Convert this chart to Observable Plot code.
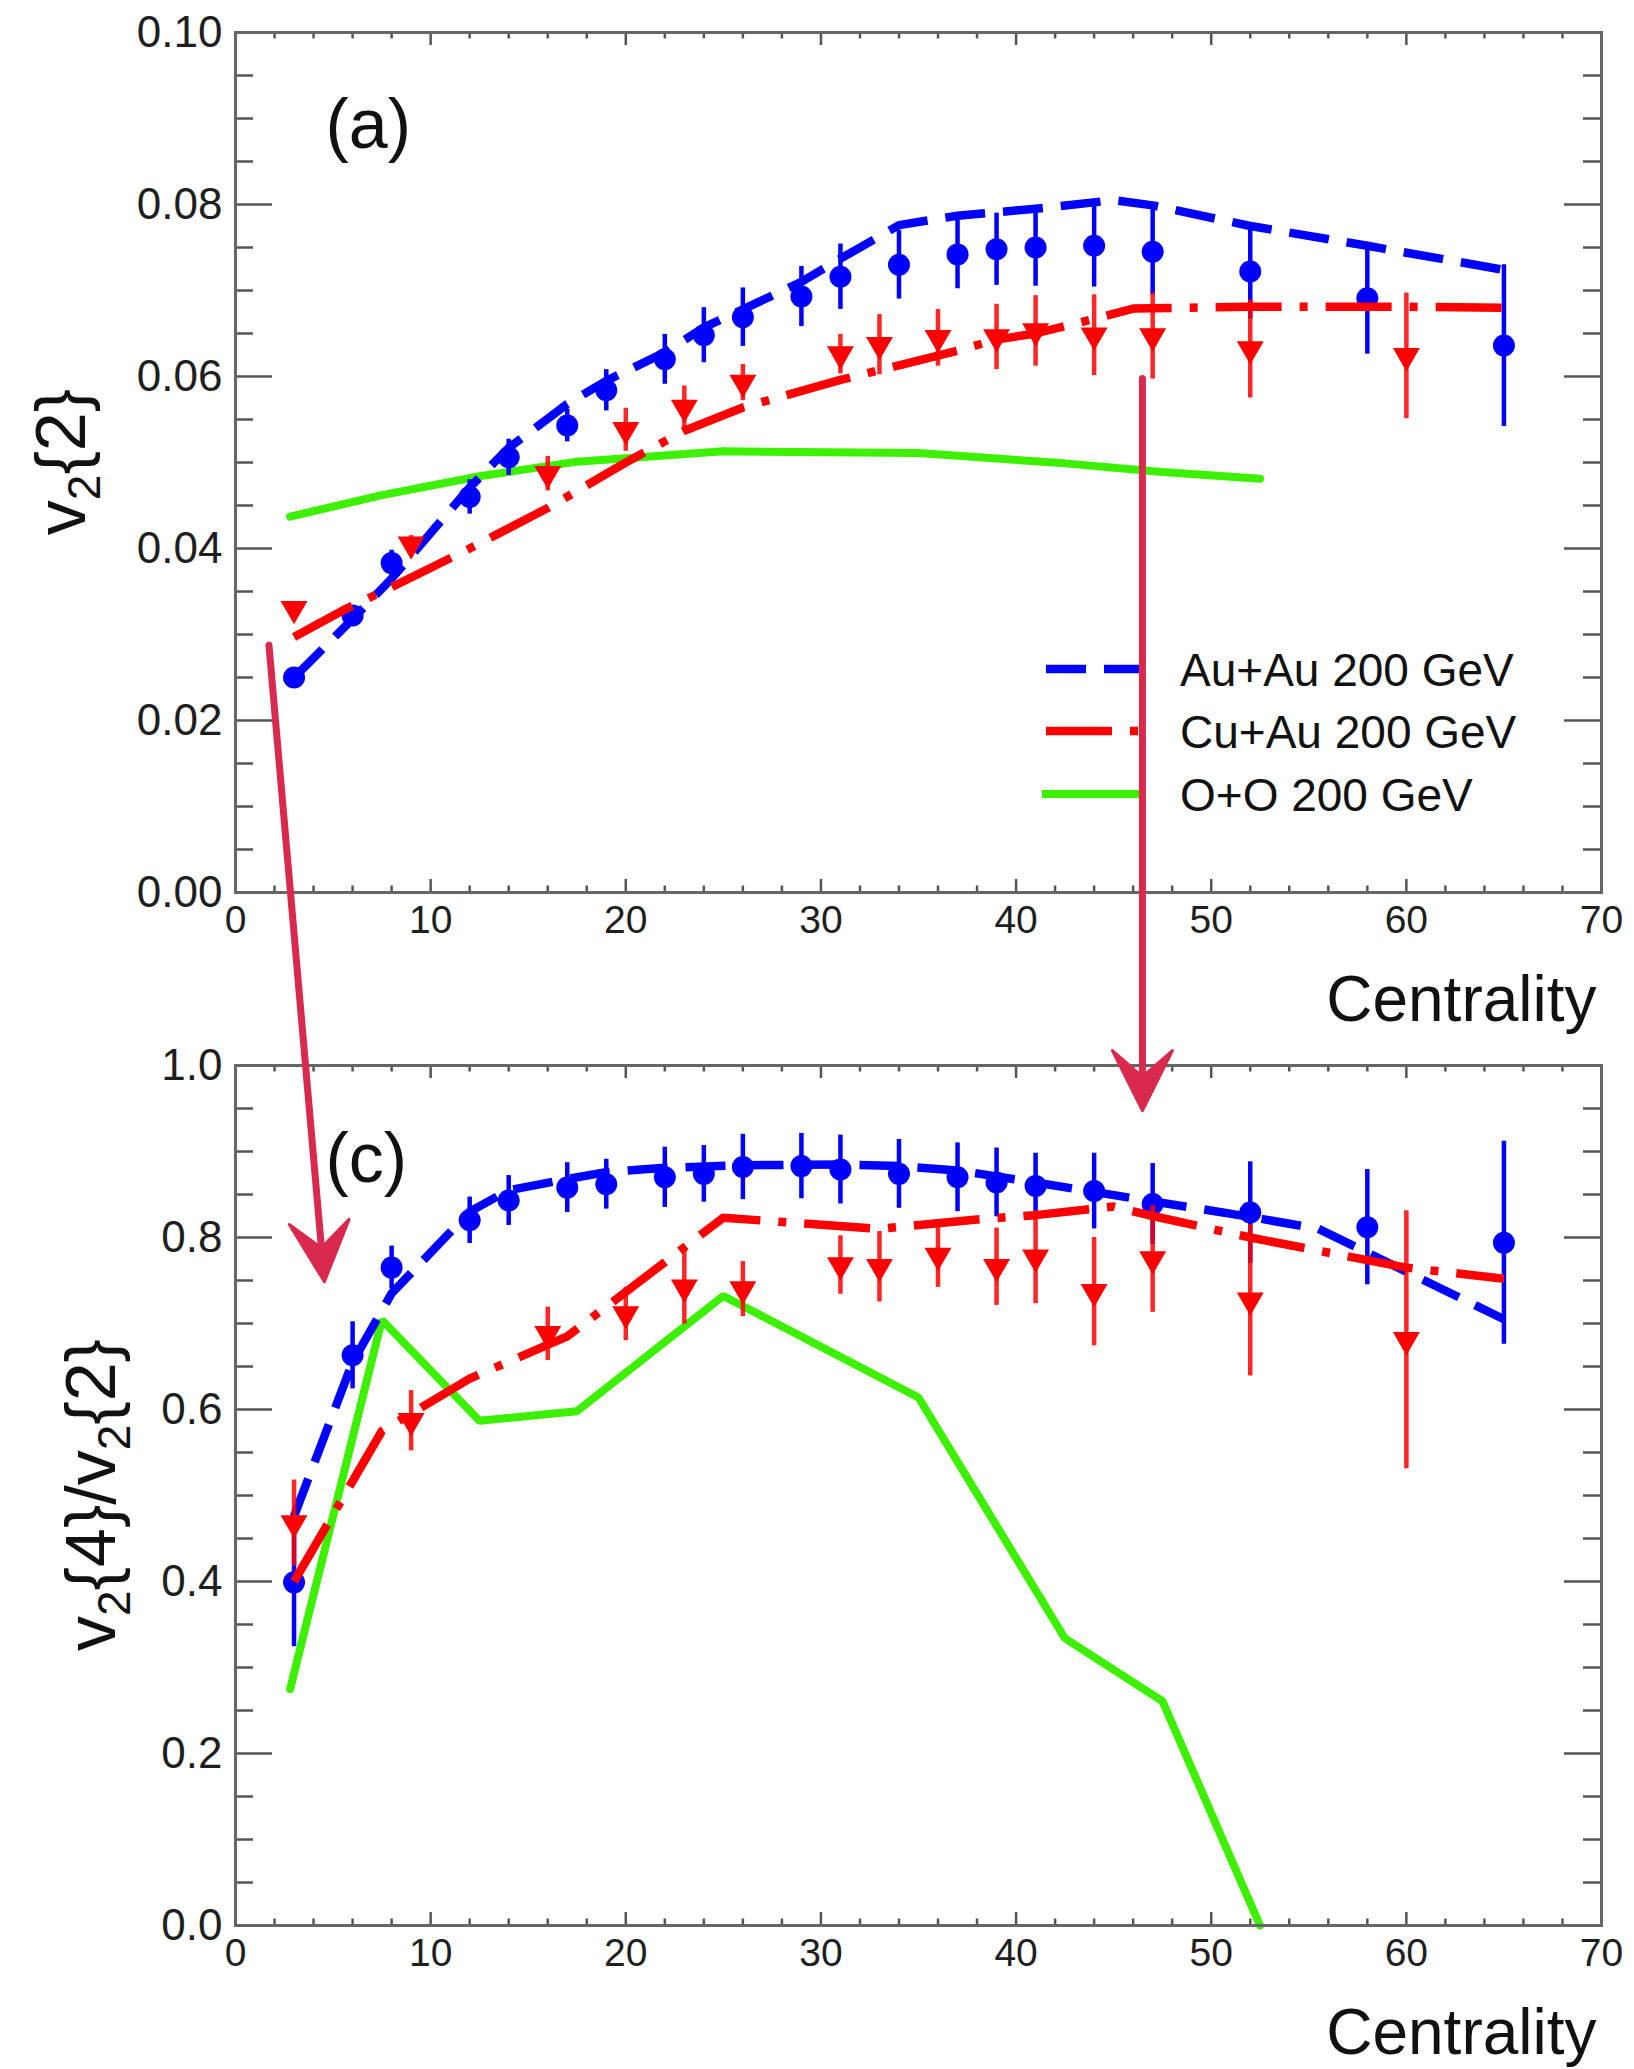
<!DOCTYPE html>
<html>
<head>
<meta charset="utf-8">
<script src="https://cdn.jsdelivr.net/npm/d3@7"></script>
<script src="https://cdn.jsdelivr.net/npm/@observablehq/plot@0.6"></script>
<style>
html, body { margin: 0; padding: 0; background: #fff; }
#fig { position: relative; width: 1634px; height: 2069px; overflow: hidden; background: #fff; }
#fig svg { position: absolute; left: 0; }
</style>
</head>
<body>
<div id="fig"></div>
<script>
// ---------------- data ----------------
// Au+Au 200 GeV data points (blue circles)
const centAuAu = [3, 6, 8, 12, 14, 17, 19, 22, 24, 26, 29, 31, 34, 37, 39, 41, 44, 47, 52, 58, 65];
const v22AuAu = [0.0250, 0.0322, 0.0383, 0.0460, 0.0506, 0.0543, 0.0584, 0.0620, 0.0648, 0.0669, 0.0693, 0.0716, 0.0730, 0.0742, 0.0748, 0.0750, 0.0752, 0.0745, 0.0722, 0.0691, 0.0636];
const v22AuAuErr = [0.0006, 0.0008, 0.0015, 0.0020, 0.0021, 0.0019, 0.0024, 0.0029, 0.0032, 0.0034, 0.0035, 0.0038, 0.0040, 0.0040, 0.0042, 0.0045, 0.0048, 0.0050, 0.0055, 0.0065, 0.0094];
const ratioAuAu = [0.399, 0.663, 0.765, 0.820, 0.843, 0.858, 0.862, 0.870, 0.874, 0.882, 0.883, 0.879, 0.874, 0.870, 0.864, 0.860, 0.854, 0.839, 0.829, 0.812, 0.794];
const ratioAuAuErr = [0.075, 0.039, 0.025, 0.027, 0.029, 0.029, 0.029, 0.035, 0.033, 0.038, 0.038, 0.040, 0.040, 0.040, 0.040, 0.038, 0.044, 0.047, 0.059, 0.067, 0.118];

// Cu+Au 200 GeV data points (red down-triangles)
const centCuAu = [3, 9, 16, 20, 23, 26, 31, 33, 36, 39, 41, 44, 47, 52, 60];
const v22CuAu = [0.0330, 0.0405, 0.0487, 0.0538, 0.0564, 0.0593, 0.0626, 0.0637, 0.0645, 0.0646, 0.0653, 0.0648, 0.0647, 0.0632, 0.0624];
const v22CuAuErr = [0.0008, 0.0010, 0.0020, 0.0025, 0.0025, 0.0021, 0.0023, 0.0035, 0.0033, 0.0038, 0.0041, 0.0047, 0.0050, 0.0057, 0.0073];
const ratioCuAu = [0.468, 0.587, 0.688, 0.711, 0.742, 0.740, 0.768, 0.766, 0.779, 0.766, 0.777, 0.737, 0.775, 0.727, 0.681];
const ratioCuAuErr = [0.050, 0.035, 0.031, 0.031, 0.043, 0.032, 0.034, 0.041, 0.037, 0.045, 0.054, 0.063, 0.062, 0.088, 0.150];

// Model curves, panel (a)
const centAuAuModelA = [3, 6, 8, 12, 14, 17, 19, 22, 24, 26, 29, 31, 34, 37, 39, 41, 45, 47, 52, 58, 65];
const v22AuAuModel = [0.0250, 0.0318, 0.0365, 0.0471, 0.0517, 0.0568, 0.0595, 0.0628, 0.0657, 0.0678, 0.0710, 0.0737, 0.0776, 0.0787, 0.0791, 0.0795, 0.0805, 0.0799, 0.0775, 0.0752, 0.0724];
const centCuAuModelA = [3, 5.5, 8, 12, 16, 20, 23, 26, 31, 34, 37, 39, 41, 44, 46, 52, 60, 65];
const v22CuAuModel = [0.0297, 0.0328, 0.0355, 0.0400, 0.0447, 0.0500, 0.0537, 0.0564, 0.0596, 0.0613, 0.0630, 0.0643, 0.0650, 0.0667, 0.0679, 0.0681, 0.0681, 0.0680];
const centOO = [2.8, 7.5, 12.5, 17.5, 25, 35, 42.5, 47.5, 52.5];
const v22OO = [0.0437, 0.0462, 0.0484, 0.0501, 0.0513, 0.0511, 0.0499, 0.0489, 0.0481];

// Model curves, panel (c)
const centAuAuModelC = [3, 6, 8, 12, 14, 17, 19, 22, 26, 31, 34, 37, 41, 44, 47, 52, 55.5, 65];
const ratioAuAuModel = [0.476, 0.655, 0.735, 0.830, 0.855, 0.868, 0.876, 0.881, 0.884, 0.885, 0.883, 0.878, 0.864, 0.853, 0.842, 0.824, 0.810, 0.705];
const centCuAuModelC = [3, 7.5, 12, 17, 25, 33, 38, 41, 45, 47, 52, 57, 60, 65];
const ratioCuAuModel = [0.400, 0.575, 0.636, 0.685, 0.823, 0.810, 0.821, 0.826, 0.836, 0.825, 0.800, 0.778, 0.765, 0.752];
const ratioOO = [0.275, 0.704, 0.587, 0.598, 0.732, 0.614, 0.334, 0.261, 0.0];

// Axis ticks
const xMajorTicks = [0, 10, 20, 30, 40, 50, 60, 70];
const xMinorTicks = [2, 4, 6, 8, 12, 14, 16, 18, 22, 24, 26, 28, 32, 34, 36, 38, 42, 44, 46, 48, 52, 54, 56, 58, 62, 64, 66, 68];
const yMajorTicksA = [0, 0.02, 0.04, 0.06, 0.08, 0.10];
const yMinorTicksA = [0.005, 0.01, 0.015, 0.025, 0.03, 0.035, 0.045, 0.05, 0.055, 0.065, 0.07, 0.075, 0.085, 0.09, 0.095];
const yMajorTicksC = [0, 0.2, 0.4, 0.6, 0.8, 1.0];
const yMinorTicksC = [0.05, 0.1, 0.15, 0.25, 0.3, 0.35, 0.45, 0.5, 0.55, 0.65, 0.7, 0.75, 0.85, 0.9, 0.95];

// Legend entries
const legendLabels = ["Au+Au 200 GeV", "Cu+Au 200 GeV", "O+O 200 GeV"];

// Hand-drawn annotation arrows: start in panel (a), end in panel (c)
const arrowStartCent = [1.74, 46.5];
const arrowStartV22 = [0.0287, 0.0597];
const arrowEndCent = [4.58, 46.5];
const arrowEndRatio = [0.748, 0.947];

// ---------------- styles ----------------
const W = 1634;
const FONT = '"Liberation Sans", Arial, Helvetica, sans-serif';
const BLUE = "#0000ff", RED = "#ff0000", GREEN = "#3cf000", ARROW = "#d92a4e";
const AXC = "#555", TXT = "#1e1e1e";
const ML = 235, MR = 33;
const BLUE_DASH = "40,18";
const RED_DASHDOT = "66,18,8,18";

function rows(c, v, e) { return c.map((d, i) => ({c: d, v: v[i], e: e ? e[i] : 0})); }

function panel(cfg) {
  const frameW = W - ML - MR;
  const frameH = cfg.height - cfg.marginTop - cfg.marginBottom;
  const blue = rows(centAuAu, cfg.blueV, cfg.blueE);
  const red = rows(centCuAu, cfg.redV, cfg.redE);
  const marks = [
    // ticks (inside the frame, on all four sides)
    Plot.ruleX(xMajorTicks, {insetTop: frameH - 13, stroke: AXC, strokeWidth: 2.5}),
    Plot.ruleX(xMajorTicks, {insetBottom: frameH - 13, stroke: AXC, strokeWidth: 2.5}),
    Plot.ruleX(xMinorTicks, {insetTop: frameH - 6.5, stroke: AXC, strokeWidth: 2.5}),
    Plot.ruleX(xMinorTicks, {insetBottom: frameH - 6.5, stroke: AXC, strokeWidth: 2.5}),
    Plot.ruleY(cfg.yMajor, {insetRight: frameW - 37, stroke: AXC, strokeWidth: 2.5}),
    Plot.ruleY(cfg.yMajor, {insetLeft: frameW - 37, stroke: AXC, strokeWidth: 2.5}),
    Plot.ruleY(cfg.yMinor, {insetRight: frameW - 18, stroke: AXC, strokeWidth: 2.5}),
    Plot.ruleY(cfg.yMinor, {insetLeft: frameW - 18, stroke: AXC, strokeWidth: 2.5}),
    Plot.axisX({ticks: xMajorTicks, tickSize: 0, tickPadding: 13, tickFormat: d3.format("d"), fontSize: 39, fill: TXT, label: null}),
    Plot.axisY({ticks: cfg.yMajor, tickSize: 0, tickPadding: 13, tickFormat: cfg.yFormat, fontSize: 44, fill: TXT, label: null}),
    // O+O model
    Plot.line(cfg.greenV, {x: centOO, y: cfg.greenV, stroke: GREEN, strokeWidth: 8, strokeLinejoin: "miter"}),
    // Au+Au model + data
    Plot.line(cfg.blueModelV, {x: cfg.blueModelC, y: cfg.blueModelV, stroke: BLUE, strokeWidth: 8.5, strokeDasharray: BLUE_DASH, strokeLinecap: "butt"}),
    Plot.ruleX(blue, {x: "c", y1: d => d.v - d.e, y2: d => d.v + d.e, stroke: BLUE, strokeWidth: 4.5}),
    Plot.dot(blue, {x: "c", y: "v", r: 11, fill: BLUE, stroke: null}),
    // Cu+Au model + data
    Plot.line(cfg.redModelV, {x: cfg.redModelC, y: cfg.redModelV, stroke: RED, strokeWidth: 8.5, strokeDasharray: RED_DASHDOT, strokeLinecap: "butt"}),
    Plot.ruleX(red, {x: "c", y1: d => d.v - d.e, y2: d => d.v + d.e, stroke: RED, strokeWidth: 4.5, strokeOpacity: 0.85}),
    Plot.dot(red, {x: "c", y: "v", symbol: "triangle", rotate: 180, r: 10, fill: RED, stroke: null}),
    // panel label and axis title
    Plot.text([cfg.tag], {frameAnchor: "top-left", dx: 90, dy: cfg.tagDy, textAnchor: "start", lineAnchor: "bottom", fontSize: 70, fill: "#111"}),
    Plot.text(["Centrality"], {frameAnchor: "bottom-right", dx: -5, dy: 128, textAnchor: "end", lineAnchor: "bottom", fontSize: 64, fill: "#111"}),
    Plot.frame({stroke: "#666", strokeWidth: 3})
  ];
  const p = Plot.plot({
    width: W, height: cfg.height,
    marginLeft: ML, marginRight: MR, marginTop: cfg.marginTop, marginBottom: cfg.marginBottom,
    x: {domain: [0, 70]},
    y: {domain: cfg.yDomain},
    style: {fontFamily: FONT, background: "transparent", overflow: "visible"},
    marks
  });
  // rotated y-axis title with subscripts
  const t = d3.select(p).append("text")
    .attr("transform", `translate(${cfg.titleX},${cfg.marginTop + frameH / 2}) rotate(-90)`)
    .attr("text-anchor", "middle").attr("font-size", 70).attr("font-family", FONT).attr("fill", "#111");
  let lastSub = false;
  cfg.title.forEach(([s, sub]) => {
    if (sub) t.append("tspan").attr("font-size", 46).attr("dy", 15).text(s);
    else t.append("tspan").attr("dy", lastSub ? -15 : 0).text(s);
    lastSub = sub;
  });
  return p;
}

const topPlot = panel({
  height: 1040, marginTop: 32, marginBottom: 148,
  yDomain: [0, 0.1], yMajor: yMajorTicksA, yMinor: yMinorTicksA, yFormat: d3.format(".2f"),
  blueV: v22AuAu, blueE: v22AuAuErr, redV: v22CuAu, redE: v22CuAuErr,
  blueModelC: centAuAuModelA, blueModelV: v22AuAuModel,
  redModelC: centCuAuModelA, redModelV: v22CuAuModel,
  greenV: v22OO,
  tag: "(a)", tagDy: 115, titleX: 85,
  title: [["v", false], ["2", true], ["{2}", false]]
});
topPlot.style.top = "0px";

const botPlot = panel({
  height: 1029, marginTop: 25, marginBottom: 144,
  yDomain: [0, 1], yMajor: yMajorTicksC, yMinor: yMinorTicksC, yFormat: d3.format(".1f"),
  blueV: ratioAuAu, blueE: ratioAuAuErr, redV: ratioCuAu, redE: ratioCuAuErr,
  blueModelC: centAuAuModelC, blueModelV: ratioAuAuModel,
  redModelC: centCuAuModelC, redModelV: ratioCuAuModel,
  greenV: ratioOO,
  tag: "(c)", tagDy: 116, titleX: 115,
  title: [["v", false], ["2", true], ["{4}/v", false], ["2", true], ["{2}", false]]
});
botPlot.style.top = "1040px";

// legend in panel (a)
{
  const g = d3.select(topPlot).append("g");
  const styles = [
    {stroke: BLUE, dash: BLUE_DASH, w: 8.5, x0: 1046},
    {stroke: RED, dash: RED_DASHDOT, w: 8.5, x0: 1046},
    {stroke: GREEN, dash: null, w: 8, x0: 1042}
  ];
  const ys = [669, 731, 794];
  legendLabels.forEach((lab, i) => {
    const s = styles[i];
    g.append("line").attr("x1", s.x0).attr("x2", 1141).attr("y1", ys[i]).attr("y2", ys[i])
      .attr("stroke", s.stroke).attr("stroke-width", s.w)
      .attr("stroke-dasharray", s.dash).attr("stroke-linecap", "butt");
    g.append("text").attr("x", 1180).attr("y", ys[i]).attr("dy", "0.36em")
      .attr("text-anchor", "start")
      .attr("font-family", FONT).attr("font-size", 46).attr("fill", "#111").text(lab);
  });
}

document.getElementById("fig").append(topPlot, botPlot);

// overlay with the hand-drawn arrows, positioned through the plots' scales
{
  const xa = topPlot.scale("x"), ya = topPlot.scale("y");
  const xc = botPlot.scale("x"), yc = botPlot.scale("y");
  const svg = d3.select("#fig").append("svg")
    .attr("width", W).attr("height", 2069)
    .style("top", "0px").style("pointer-events", "none");
  arrowStartCent.forEach((c0, i) => {
    const x0 = xa.apply(c0), y0 = ya.apply(arrowStartV22[i]);
    const x1 = xc.apply(arrowEndCent[i]), y1 = yc.apply(arrowEndRatio[i]) + 1040;
    const dx = x1 - x0, dy = y1 - y0, L = Math.hypot(dx, dy);
    const ux = dx / L, uy = dy / L, px = -uy, py = ux;
    const back = 60, half = 30, notch = 34;
    svg.append("line").attr("x1", x0).attr("y1", y0)
      .attr("x2", x1 - ux * 20).attr("y2", y1 - uy * 20)
      .attr("stroke", ARROW).attr("stroke-width", 7).attr("stroke-linecap", "round");
    const pts = [
      [x1 - ux * back + px * half, y1 - uy * back + py * half],
      [x1, y1],
      [x1 - ux * back - px * half, y1 - uy * back - py * half],
      [x1 - ux * notch, y1 - uy * notch]
    ];
    svg.append("path").attr("d", "M" + pts.map(p => p.join(",")).join("L") + "Z")
      .attr("fill", ARROW).attr("stroke", ARROW).attr("stroke-width", 3).attr("stroke-linejoin", "round");
  });
}
</script>
</body>
</html>
